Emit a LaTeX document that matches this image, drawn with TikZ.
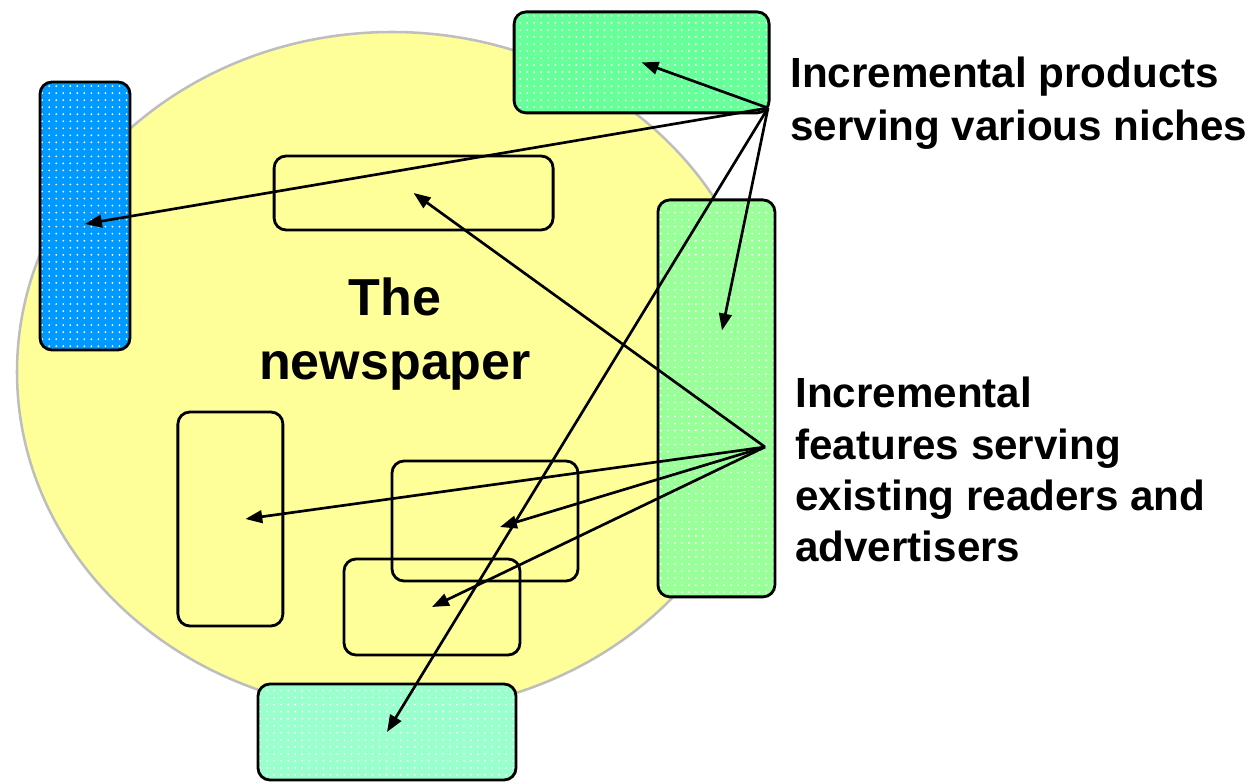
\documentclass[tikz,border=0pt]{standalone}
\usepackage{fontspec}
\setmainfont{Liberation Sans}
\usetikzlibrary{arrows.meta,patterns.meta}

\definecolor{paper}{HTML}{FFFF99}
\definecolor{rim}{HTML}{BEBEBE}
\definecolor{nicheblue}{HTML}{0099FF}
\definecolor{nichegreen}{HTML}{66FF99}
\definecolor{featgreen}{HTML}{99FF99}
\definecolor{nichemint}{HTML}{99FFCC}

\begin{document}
\begin{tikzpicture}[>={Triangle[length=12pt,width=9pt]},
  box/.style={draw, line width=2pt, rounded corners=0.3cm, inner sep=0pt},
  dotbox/.style={box, preaction={fill=#1}, pattern={Dots[distance=5pt,radius=0.7pt]}, pattern color=white},
  link/.style={->, line width=1.9pt},
  remark/.style={align=left, inner sep=0pt, font=\fontsize{30}{37.5}\selectfont\bfseries}]
\useasboundingbox (0,0) rectangle (31.4,-19.55);

% the newspaper itself
\draw[rim, line width=1.8pt, fill=paper] (9.8,-9.3) ellipse [x radius=9.375, y radius=8.5];
\node[align=center, inner sep=0pt, font=\fontsize{37}{46}\selectfont\bfseries] (paper) at (9.875,-8.35) {The\\newspaper};

% new products around the paper
\node[dotbox=nicheblue, minimum width=2.25cm, minimum height=6.7cm] (sideprod) at (2.125,-5.4) {};
\node[dotbox=nichegreen, minimum width=6.375cm, minimum height=2.525cm] (topprod) at (16.04,-1.56) {};
\node[dotbox=featgreen, minimum width=2.925cm, minimum height=9.925cm] (sidefeat) at (17.91,-9.96) {};
\node[dotbox=nichemint, minimum width=6.45cm, minimum height=2.4cm] (bottomprod) at (9.675,-18.3) {};

% features inside the paper
\node[box, minimum width=6.975cm, minimum height=1.85cm] (feat1) at (10.34,-4.825) {};
\node[box, minimum width=2.625cm, minimum height=5.35cm] (feat2) at (5.76,-12.975) {};
\node[box, minimum width=4.65cm, minimum height=3.0cm] (feat3) at (12.125,-13.025) {};
\node[box, minimum width=4.4cm, minimum height=2.4cm] (feat4) at (10.8,-15.175) {};

\node[remark, anchor=north west] (nichetext) at (19.75,-1.425) {Incremental products\\serving various niches};
\node[remark, anchor=north west, font=\fontsize{30}{36.4}\selectfont\bfseries] (feattext) at (19.875,-9.425) {Incremental\\features serving\\existing readers and\\advertisers};

\coordinate (niches) at (19.2,-2.7);
\coordinate (features) at (19.125,-11.175);

\draw[link] (niches) -- (topprod.center);
\draw[link] (niches) -- ([yshift=-0.2cm]sideprod.center);
\draw[link] (niches) -- ([xshift=0.14cm,yshift=1.7cm]sidefeat.center);
\draw[link] (niches) -- (bottomprod.center);

\draw[link] (features) -- (feat1.center);
\draw[link] (features) -- ([xshift=0.375cm]feat2.center);
\draw[link] (features) -- ([xshift=0.375cm,yshift=-0.15cm]feat3.center);
\draw[link] (features) -- (feat4.center);
\end{tikzpicture}
\end{document}
